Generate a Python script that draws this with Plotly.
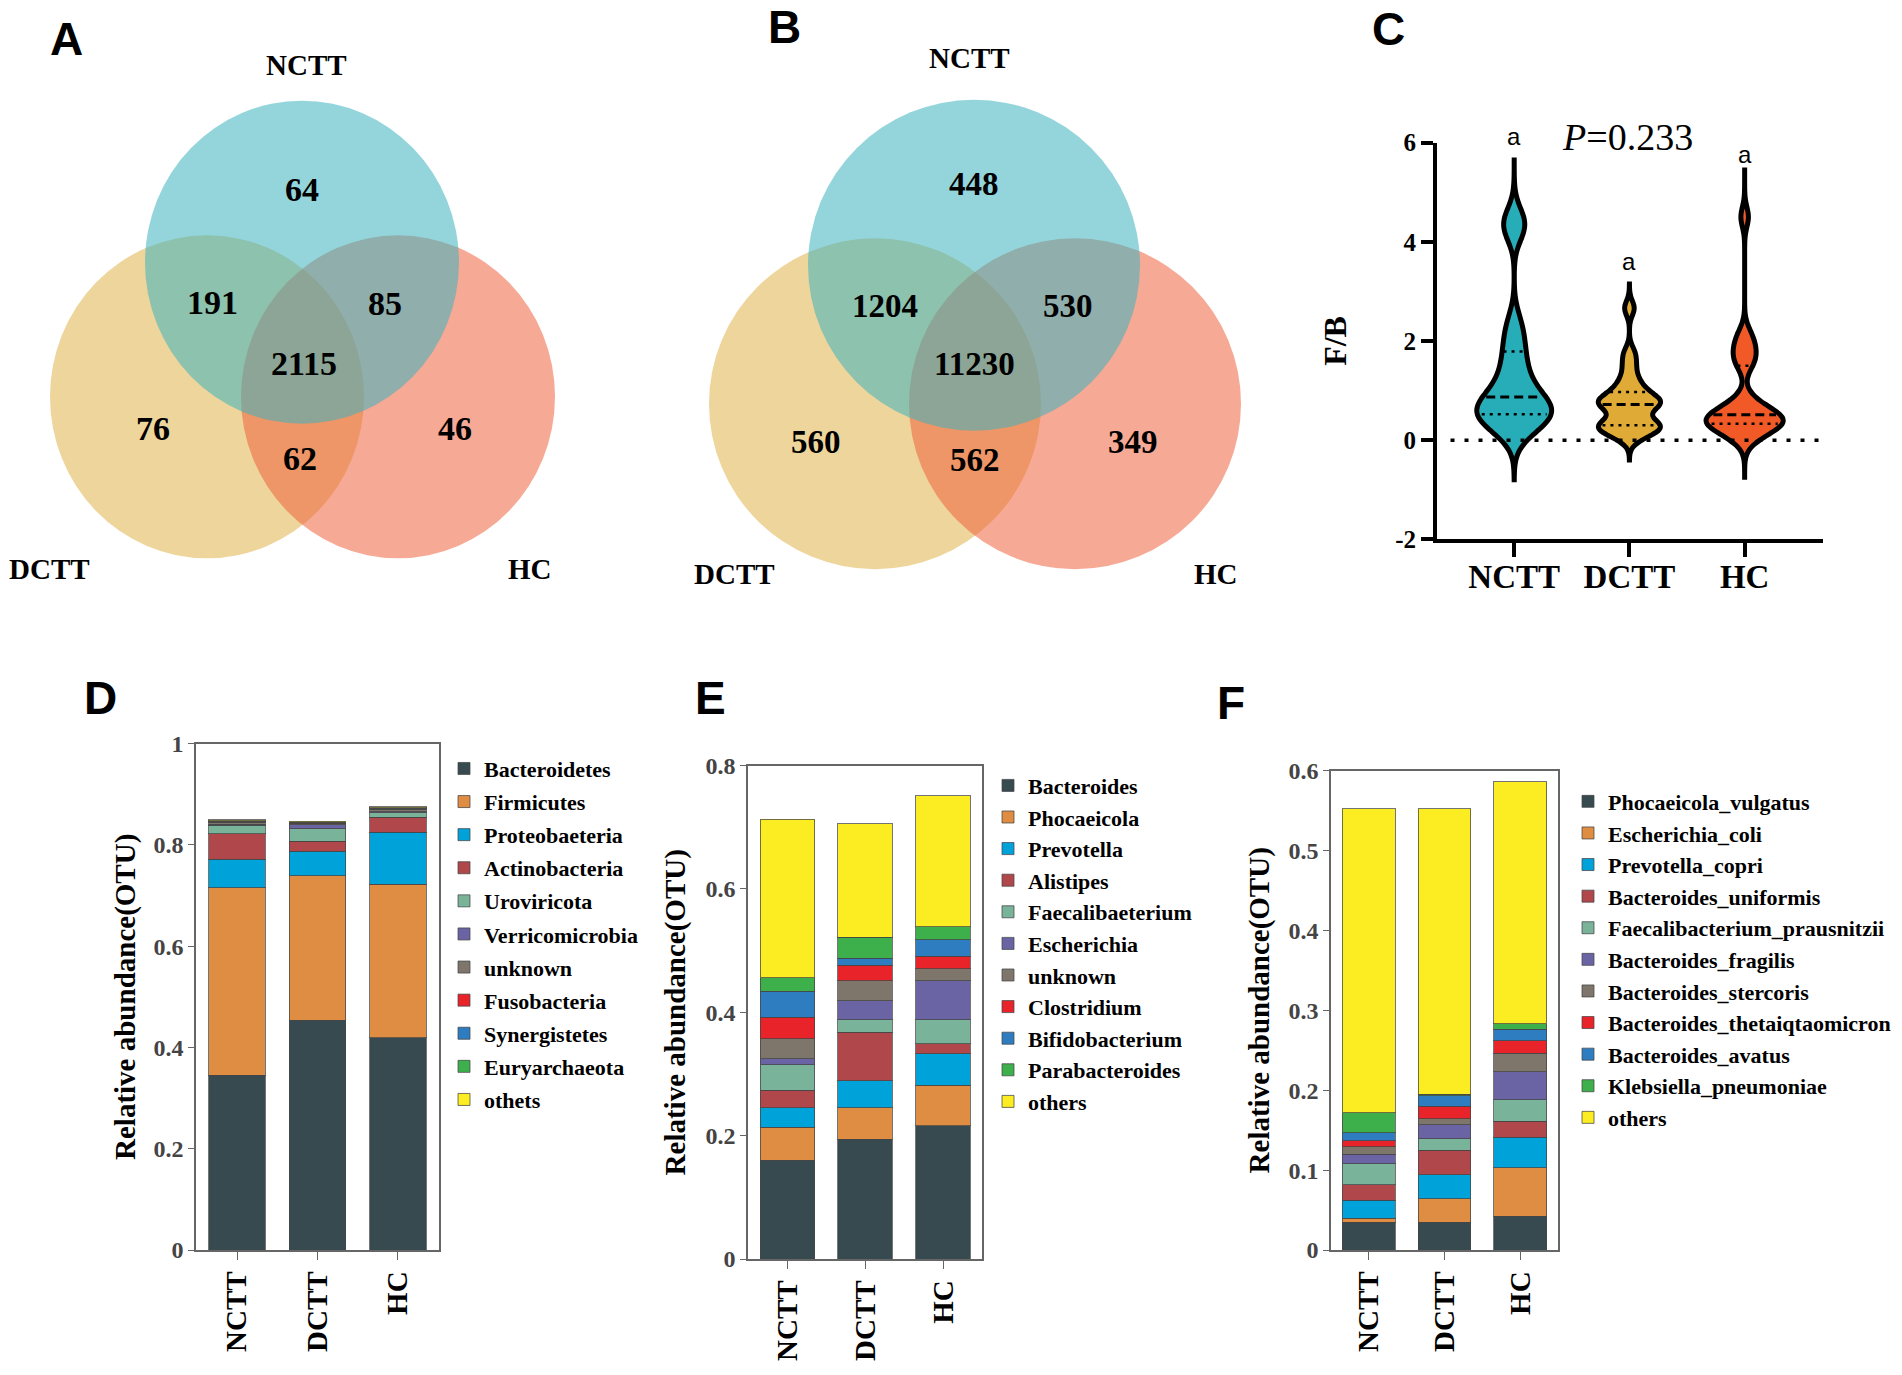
import numpy as np
import plotly.graph_objects as go

W, H = 1902, 1375

groups = ["NCTT", "DCTT", "HC"]
group_pos = [0, 1, 2]

# ---------------- Venn data ----------------
venn_A_counts = [64, 191, 85, 2115, 76, 62, 46]
venn_B_counts = [448, 1204, 530, 11230, 560, 562, 349]

# ---------------- F/B ratio samples (panel C) ----------------
fb_nctt = [0.10, 0.25, 0.35, 0.42, 0.48, 0.51, 0.56, 0.62, 0.70, 0.76, 0.82,
           0.92, 1.05, 1.20, 1.40, 1.60, 1.85, 2.10, 2.40, 4.20, 4.35, 4.50]
fb_dctt = [0.05, 0.14, 0.20, 0.25, 0.28, 0.30, 0.35, 0.42, 0.60, 0.68, 0.72,
           0.75, 0.78, 0.82, 0.90, 0.97, 1.10, 1.25, 1.50, 1.75, 2.66]
fb_hc = [0.00, 0.12, 0.20, 0.26, 0.30, 0.33, 0.36, 0.40, 0.43, 0.47, 0.51,
         0.55, 0.60, 0.70, 0.85, 1.50, 1.65, 1.80, 1.95, 2.15, 4.50]
fb_bandwidth = [0.30, 0.15, 0.20]
fb_span = [[-0.8, 5.7], [-0.4, 3.15], [-0.8, 5.5]]
fb_letters = ["a", "a", "a"]
fb_letter_y = [6.12, 3.6, 5.75]
p_label = "<i>P</i>=0.233"
fb_ticks = [-2, 0, 2, 4, 6]
fb_ticktext = ["-2", "0", "2", "4", "6"]

# ---------------- Panel D: phylum ----------------
phylum_names = ["Bacteroidetes", "Firmicutes", "Proteobaeteria", "Actinobacteria",
                "Uroviricota", "Verricomicrobia", "unknown", "Fusobacteria",
                "Synergistetes", "Euryarchaeota", "othets"]
phylum_nctt = [0.345, 0.370, 0.057, 0.050, 0.017, 0.002, 0.004, 0.001, 0.001, 0.001, 0.002]
phylum_dctt = [0.454, 0.285, 0.049, 0.019, 0.025, 0.008, 0.002, 0.001, 0.001, 0.001, 0.002]
phylum_hc = [0.419, 0.303, 0.103, 0.030, 0.009, 0.002, 0.004, 0.001, 0.001, 0.001, 0.002]

# ---------------- Panel E: genus ----------------
genus_names = ["Bacteroides", "Phocaeicola", "Prevotella", "Alistipes",
               "Faecalibaeterium", "Escherichia", "unknown", "Clostridium",
               "Bifidobacterium", "Parabacteroides", "others"]
genus_nctt = [0.160, 0.054, 0.031, 0.029, 0.041, 0.010, 0.032, 0.035, 0.042, 0.022, 0.257]
genus_dctt = [0.194, 0.051, 0.044, 0.079, 0.020, 0.031, 0.032, 0.025, 0.012, 0.034, 0.184]
genus_hc = [0.216, 0.066, 0.051, 0.016, 0.039, 0.063, 0.020, 0.020, 0.027, 0.021, 0.212]

# ---------------- Panel F: species ----------------
species_names = ["Phocaeicola_vulgatus", "Escherichia_coli", "Prevotella_copri",
                 "Bacteroides_uniformis", "Faecalibacterium_prausnitzii",
                 "Bacteroides_fragilis", "Bacteroides_stercoris",
                 "Bacteroides_thetaiqtaomicron", "Bacteroides_avatus",
                 "Klebsiella_pneumoniae", "others"]
species_nctt = [0.035, 0.005, 0.022, 0.020, 0.026, 0.012, 0.009, 0.008, 0.010, 0.025, 0.380]
species_dctt = [0.035, 0.029, 0.030, 0.031, 0.014, 0.018, 0.007, 0.016, 0.013, 0.002, 0.357]
species_hc = [0.042, 0.061, 0.038, 0.020, 0.027, 0.035, 0.023, 0.016, 0.014, 0.007, 0.303]

taxa_colors = ["#364A50", "#E08D44", "#00A3D9", "#B0474A", "#79B39A", "#6B64A4",
               "#7E766A", "#E9232A", "#2F7DC1", "#3DB04B", "#FCEC22"]
violin_colors = ["#27ADB7", "#DFAB36", "#F15A26"]

SERIF = "Liberation Serif, Times New Roman, serif"
SANS = "Liberation Sans, Arial, sans-serif"

# vertical placement calibration (target pixel -> layout pixel)
Y_OFF, Y_SCALE = 12.0, 0.9835


def px_x(v):
    return v / W


def px_y(v):
    return 1 - ((v - Y_OFF) / Y_SCALE) / H


def dom_x(a, b):
    return [a / W, b / W]


def dom_y(top, bottom):
    return [px_y(bottom), px_y(top)]


fig = go.Figure()

# ---------------- stacked bars ----------------
bar_panels = [
    ("x", "y", "legend", phylum_names, [phylum_nctt, phylum_dctt, phylum_hc]),
    ("x2", "y2", "legend2", genus_names, [genus_nctt, genus_dctt, genus_hc]),
    ("x3", "y3", "legend3", species_names, [species_nctt, species_dctt, species_hc]),
]
for xa, ya, lg, names, vals in bar_panels:
    for i, nm in enumerate(names):
        fig.add_trace(go.Bar(
            x=group_pos, y=[vals[0][i], vals[1][i], vals[2][i]],
            name=nm, marker=dict(color=taxa_colors[i], line=dict(color="rgba(70,70,70,0.75)", width=1)),
            width=0.7, xaxis=xa, yaxis=ya, legend=lg, legendgroup=lg + nm,
        ))

# ---------------- violins ----------------
fb_data = [fb_nctt, fb_dctt, fb_hc]
violin_widths = [0.65, 0.54, 0.67]
for k, d in enumerate(fb_data):
    fig.add_trace(go.Violin(
        x=[group_pos[k]] * len(d), y=d, width=violin_widths[k],
        bandwidth=fb_bandwidth[k], spanmode="manual", span=fb_span[k],
        line=dict(color="black", width=5), fillcolor=violin_colors[k],
        points=False, box_visible=False, meanline_visible=False,
        scalemode="width", showlegend=False, xaxis="x4", yaxis="y4",
    ))
    arr = np.array(d)
    grid = np.linspace(fb_span[k][0], fb_span[k][1], 600)

    def dens(yv):
        yv = np.atleast_1d(yv)
        return np.exp(-0.5 * ((yv[None, :] - arr[:, None]) / fb_bandwidth[k]) ** 2).sum(axis=0)

    dmax = dens(grid).max()
    q1, med, q3 = np.percentile(arr, [25, 50, 75])
    for q, dash, lw in [(q1, "3px,5px", 2.5), (med, "9px,5px", 3), (q3, "3px,5px", 2.5)]:
        hw = violin_widths[k] / 2 * dens(q)[0] / dmax * 0.88
        fig.add_trace(go.Scatter(
            x=[group_pos[k] - hw, group_pos[k] + hw], y=[q, q], mode="lines",
            line=dict(color="black", width=lw, dash=dash), showlegend=False,
            hoverinfo="skip", xaxis="x4", yaxis="y4",
        ))

# ---------------- layout ----------------
bar_tickfont = dict(family=SERIF, size=24, color="#444444", weight="bold")
bar_xtickfont = dict(family=SERIF, size=29, color="black", weight="bold")
bar_titlefont = dict(family=SERIF, size=29, color="black", weight="bold")
frame = dict(showline=True, mirror=True, linecolor="#666666", linewidth=1.5,
             showgrid=False, zeroline=False, ticks="outside", tickcolor="#666666")


def bar_x(domain, rng, anchor):
    return dict(domain=domain, range=rng, tickvals=group_pos, ticktext=groups, tickangle=-90,
                ticklen=8, tickfont=bar_xtickfont, anchor=anchor, **frame)


def bar_y(domain, rng, dtick, anchor, standoff):
    return dict(domain=domain, range=rng, dtick=dtick, ticklen=6, tickfont=bar_tickfont,
                anchor=anchor,
                title=dict(text="Relative abundance(OTU)", font=bar_titlefont, standoff=standoff),
                **frame)


legend_common = dict(font=dict(family=SERIF, size=22, color="black", weight="bold"),
                     bgcolor="rgba(0,0,0,0)", xanchor="left", yanchor="top",
                     traceorder="grouped", itemclick=False, itemdoubleclick=False)

# panel C axis geometry (target pixels)
C_left, C_right, C_top, C_bottom = 1437, 1823, 142, 540
C_yrange = [-2, 6]


def c_ypx(v):
    return C_bottom - (v - C_yrange[0]) / (C_yrange[1] - C_yrange[0]) * (C_bottom - C_top)


fig.update_layout(
    width=W, height=H, autosize=False,
    margin=dict(l=0, r=0, t=0, b=0),
    paper_bgcolor="white", plot_bgcolor="white",
    barmode="stack", violinmode="overlay", bargap=0.3,
    xaxis=bar_x(dom_x(196, 439), [-0.51, 2.51], "y"),
    yaxis=bar_y(dom_y(745, 1253), [0, 1], 0.2, "x", 9),
    xaxis2=bar_x(dom_x(748, 982), [-0.506, 2.5], "y2"),
    yaxis2=bar_y(dom_y(767, 1262), [0, 0.8], 0.2, "x2", 11),
    xaxis3=bar_x(dom_x(1331, 1558), [-0.5, 2.5], "y3"),
    yaxis3=bar_y(dom_y(772, 1253), [0, 0.6], 0.1, "x3", 10),
    xaxis4=dict(domain=dom_x(C_left, C_right), range=[-0.67, 2.68], tickvals=group_pos, ticktext=groups,
                showline=True, linecolor="black", linewidth=4, ticks="outside", ticklen=14,
                tickwidth=4, tickcolor="black", showgrid=False, zeroline=False, anchor="y4",
                ticklabelstandoff=-9,
                tickfont=dict(family=SERIF, size=33, color="black", weight="bold")),
    yaxis4=dict(domain=dom_y(C_top, C_bottom), range=C_yrange, tickvals=fb_ticks, ticktext=fb_ticktext,
                showline=True, linecolor="black",
                linewidth=4, ticks="outside", ticklen=12, tickwidth=4, tickcolor="black",
                showgrid=False, zeroline=False, anchor="x4",
                tickfont=dict(family=SERIF, size=25, color="black", weight="bold"),
                title=dict(text="F/B", font=dict(family=SERIF, size=32, color="black", weight="bold"),
                           standoff=40)),
    legend=dict(x=px_x(444), y=px_y(749), tracegroupgap=1.5, **legend_common),
    legend2=dict(x=px_x(988), y=px_y(766), tracegroupgap=0, **legend_common),
    legend3=dict(x=px_x(1568), y=px_y(782), tracegroupgap=0, **legend_common),
    showlegend=True,
)

# zero dotted line in C
fig.add_shape(type="line", xref="x4 domain", yref="y4", x0=0.035, x1=0.99, y0=0, y1=0,
              line=dict(color="black", width=3.5, dash="4px,10px"))

# ---------------- Venn diagrams ----------------
venn_panels = [
    dict(counts=venn_A_counts, N=(302, 262), D=(207, 397), Hc=(398, 397), rx=157, ry=162,
         labels=[("NCTT", 306, 64), ("DCTT", 49, 570), ("HC", 530, 570)],
         nums=[(302, 189), (212, 302), (385, 303), (304, 364), (153, 429), (300, 459), (455, 429)],
         size=34),
    dict(counts=venn_B_counts, N=(974, 265), D=(875, 404), Hc=(1075, 404), rx=166, ry=166,
         labels=[("NCTT", 969, 57), ("DCTT", 734, 575), ("HC", 1216, 575)],
         nums=[(974, 184), (885, 306), (1068, 306), (974, 364), (816, 442), (975, 460), (1133, 442)],
         size=33),
]
venn_fill = {"D": "rgba(222,179,75,0.55)", "Hc": "rgba(239,99,60,0.55)", "N": "rgba(60,178,190,0.55)"}
for vp in venn_panels:
    for key in ["D", "Hc", "N"]:
        cx, cy = vp[key]
        fig.add_shape(type="circle", xref="paper", yref="paper",
                      x0=px_x(cx - vp["rx"]), x1=px_x(cx + vp["rx"]),
                      y0=px_y(cy + vp["ry"]), y1=px_y(cy - vp["ry"]),
                      fillcolor=venn_fill[key], line=dict(width=0), layer="below")
    for txt, lx, ly in vp["labels"]:
        fig.add_annotation(x=px_x(lx), y=px_y(ly), xref="paper", yref="paper", text=txt,
                           showarrow=False, xanchor="center", yanchor="middle",
                           font=dict(family=SERIF, size=29, color="black", weight="bold"))
    for cnt, (nx, ny) in zip(vp["counts"], vp["nums"]):
        fig.add_annotation(x=px_x(nx), y=px_y(ny), xref="paper", yref="paper", text=str(cnt),
                           showarrow=False, xanchor="center", yanchor="middle",
                           font=dict(family=SERIF, size=vp["size"], color="black", weight="bold"))

# ---------------- panel C texts ----------------
for k in range(3):
    fig.add_annotation(x=group_pos[k], y=px_y(c_ypx(fb_letter_y[k])), xref="x4", yref="paper",
                       text=fb_letters[k], showarrow=False, yanchor="middle",
                       font=dict(family=SANS, size=24, color="black"))
fig.add_annotation(x=0.98, y=px_y(c_ypx(6.12)), xref="x4", yref="paper", text=p_label, showarrow=False,
                   xanchor="center", yanchor="middle",
                   font=dict(family=SERIF, size=38, color="black"))

# ---------------- panel letters ----------------
for letter, lx, ly in [("A", 66, 38), ("B", 784, 26), ("C", 1388, 28),
                       ("D", 100, 699), ("E", 710, 699), ("F", 1231, 704)]:
    fig.add_annotation(x=px_x(lx), y=px_y(ly), xref="paper", yref="paper", text=letter,
                       showarrow=False, xanchor="center", yanchor="middle",
                       font=dict(family=SANS, size=46, color="black", weight="bold"))

fig.write_html("out.html", config={"displayModeBar": False},
               post_script="document.body.style.margin='0';document.documentElement.style.overflow='hidden';")
